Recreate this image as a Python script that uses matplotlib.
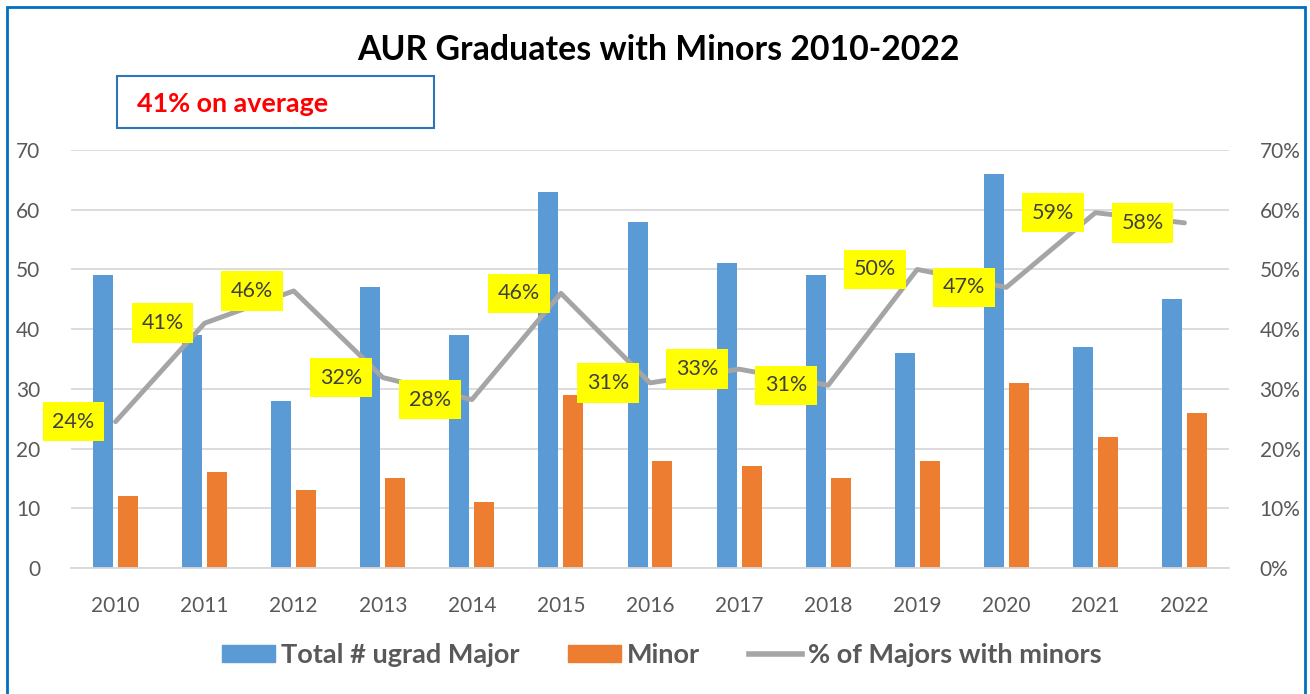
import matplotlib
matplotlib.use("Agg")
import matplotlib.pyplot as plt
from matplotlib.patches import Patch, Rectangle
from matplotlib.lines import Line2D
import numpy as np

years = ["2010", "2011", "2012", "2013", "2014", "2015", "2016", "2017", "2018", "2019", "2020", "2021", "2022"]
total_major = [49, 39, 28, 47, 39, 63, 58, 51, 49, 36, 66, 37, 45]
minor = [12, 16, 13, 15, 11, 29, 18, 17, 15, 18, 31, 22, 26]
pct_line = [24.5, 41.0, 46.4, 31.9, 28.2, 46.0, 31.0, 33.3, 30.6, 50.0, 47.0, 59.5, 57.8]
pct_labels = ["24%", "41%", "46%", "32%", "28%", "46%", "31%", "33%", "31%", "50%", "47%", "59%", "58%"]

BLUE = "#5B9BD5"
ORANGE = "#ED7D31"
GRAY = "#A5A5A5"
TXT = "#595959"
FONT = ["Lato", "DejaVu Sans"]
plt.rcParams["font.family"] = FONT

W, H = 1310, 694
fig = plt.figure(figsize=(W / 100, H / 100), dpi=100)

def fx(px):
    return px / W

def fy(py):
    return 1 - py / H

# outer frame
fig.patches.append(Rectangle((fx(7), fy(720)), fx(1305) - fx(7), fy(7) - fy(720),
                             transform=fig.transFigure, fill=False, edgecolor="#0070C0", linewidth=2))

ax = fig.add_axes([fx(71), fy(568), fx(1229) - fx(71), fy(150) - fy(568)])
x = np.arange(len(years))
bw = 0.225
ax.bar(x - 0.14, total_major, width=bw, color=BLUE, zorder=2)
ax.bar(x + 0.14, minor, width=bw, color=ORANGE, zorder=2)
ax.set_xlim(-0.5, len(years) - 0.5)
ax.set_ylim(0, 70)
ax.set_yticks(range(0, 71, 10))
ax.set_xticks(x)
ax.set_xticklabels(years)
ax.yaxis.grid(True, color="#D9D9D9", linewidth=1.3, zorder=0)
ax.set_axisbelow(True)
for s in ["top", "right", "left"]:
    ax.spines[s].set_visible(False)
ax.spines["bottom"].set_color("#D9D9D9")
ax.spines["bottom"].set_linewidth(1.3)
ax.tick_params(axis="both", length=0, labelsize=15, labelcolor=TXT)
ax.tick_params(axis="y", pad=22)
ax.tick_params(axis="x", pad=20)

ax2 = ax.twinx()
ax2.set_ylim(0, 70)
ax2.set_yticks(range(0, 71, 10))
ax2.set_yticklabels([f"{v}%" for v in range(0, 71, 10)])
ax2.tick_params(axis="y", length=0, labelsize=15, labelcolor=TXT, pad=22)
for s in ["top", "right", "left", "bottom"]:
    ax2.spines[s].set_visible(False)
ax2.plot(x, pct_line, color=GRAY, linewidth=3.5, solid_capstyle="round", zorder=3)
for xi, yi, lab in zip(x, pct_line, pct_labels):
    ax2.annotate(lab, (xi, yi), xytext=(-15, 0), textcoords="offset points",
                 ha="right", va="center", fontsize=15.5, color="#404040",
                 bbox=dict(boxstyle="square,pad=0.45", facecolor="#FFFF00", edgecolor="none"),
                 zorder=5)

fig.text(fx(658), fy(50), "AUR Graduates with Minors 2010-2022", ha="center", va="center",
         fontsize=24.4, fontweight="bold", color="black")

fig.patches.append(Rectangle((fx(117), fy(128)), fx(434) - fx(117), fy(76) - fy(128),
                             transform=fig.transFigure, fill=False, edgecolor="#2E75B6", linewidth=1.5))
fig.text(fx(137), fy(104), "41% on average", ha="left", va="center",
         fontsize=19.4, fontweight="bold", color="#FF0000")

handles = [Patch(color=BLUE), Patch(color=ORANGE), Line2D([0], [0], color=GRAY, linewidth=4)]
labels = ["Total # ugrad Major", "Minor", "% of Majors with minors"]
leg = fig.legend(handles, labels, loc="center", bbox_to_anchor=(fx(662), fy(655)), ncol=3,
                 frameon=False, handlelength=1.95, handleheight=0.55, handletextpad=0.22,
                 columnspacing=1.8, borderpad=0, prop={"size": 19.5, "weight": "bold"})
for t in leg.get_texts():
    t.set_color(TXT)

fig.savefig("out.png", dpi=100)
